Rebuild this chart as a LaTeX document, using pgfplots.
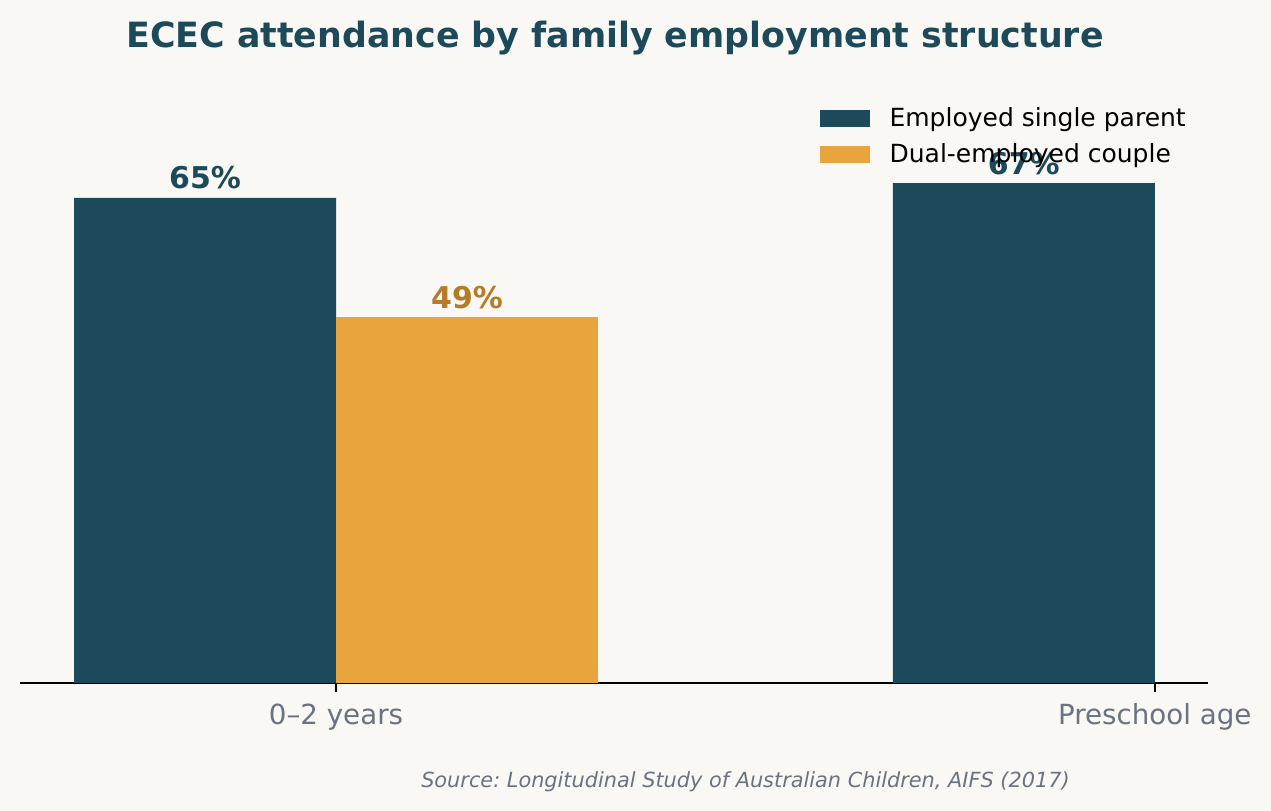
\documentclass[border=0pt]{standalone}
\usepackage{pgfplots}
\pgfplotsset{compat=1.18}
\usepackage{fontspec}
\setmainfont{DejaVu Sans}[ItalicFont={DejaVu Sans Oblique},BoldFont={DejaVu Sans Bold}]
\definecolor{bgc}{HTML}{F9F8F5}
\definecolor{myteal}{HTML}{1D4A5A}
\definecolor{myorange}{HTML}{E8A43D}
\definecolor{darkorange}{HTML}{B57B26}
\definecolor{mygray}{HTML}{6B7280}
\frenchspacing
\begin{document}
\begin{tikzpicture}
\fill[bgc] (0,0) rectangle (610.08bp,389.28bp);
\begin{axis}[
  at={(9.6bp,61.44bp)}, anchor=south west,
  scale only axis, width=570.24bp, height=286.56bp,
  xmin=-0.386, xmax=1.065, ymin=0, ymax=80,
  axis x line*=bottom, axis y line=none,
  x axis line style={black, line width=1.1bp, -},
  xtick={0,1}, xticklabels={0–2 years, Preschool age},
  tick align=outside, major tick length=4.3bp,
  x tick style={black, line width=0.8bp},
  xticklabel style={anchor=base, yshift=-15.4bp, font=\fontsize{13.3bp}{15bp}\selectfont, text=mygray},
  /pgf/number format/assume math mode=true,
  ybar, bar width=0.32,
  legend cell align=left,
  legend image code/.code={\fill[#1] (0bp,-3.2bp) rectangle (24bp,4.96bp);},
  legend style={draw=none, fill=none, at={(axis description cs:0.6734,0.9635)}, anchor=north west,
    inner sep=0pt, outer sep=0pt, row sep=5.28bp, column sep=9.4bp,
    font=\fontsize{12bp}{14bp}\selectfont,
    nodes={inner sep=0pt, text height=9.2bp, text depth=2.8bp}},
  nodes near coords={\pgfmathprintnumber{\pgfplotspointmeta}\%},
  nodes near coords style={anchor=base, yshift=4.3bp, inner sep=0pt, font=\fontsize{14.4bp}{16bp}\selectfont\bfseries},
]
\addplot[fill=myteal, draw=none, bar shift=-0.16, nodes near coords style={text=myteal}] coordinates {(0,65) (1,67)};
\addlegendentry{Employed single parent}
\addplot[fill=myorange, draw=none, bar shift=0.16, nodes near coords style={text=darkorange}] coordinates {(0,49)};
\addlegendentry{Dual-employed couple}
\end{axis}
\node[anchor=base, font=\fontsize{16.7bp}{20bp}\selectfont\bfseries, text=myteal] at (295.2bp,366.4bp) {ECEC attendance by family employment structure};
\node[anchor=base, font=\fontsize{10bp}{12bp}\selectfont\itshape, text=mygray] at (357.8bp,11.4bp) {Source: Longitudinal Study of Australian Children, AIFS (2017)};
\pgfresetboundingbox
\path (0,0) rectangle (610.08bp,389.28bp);
\end{tikzpicture}
\end{document}
